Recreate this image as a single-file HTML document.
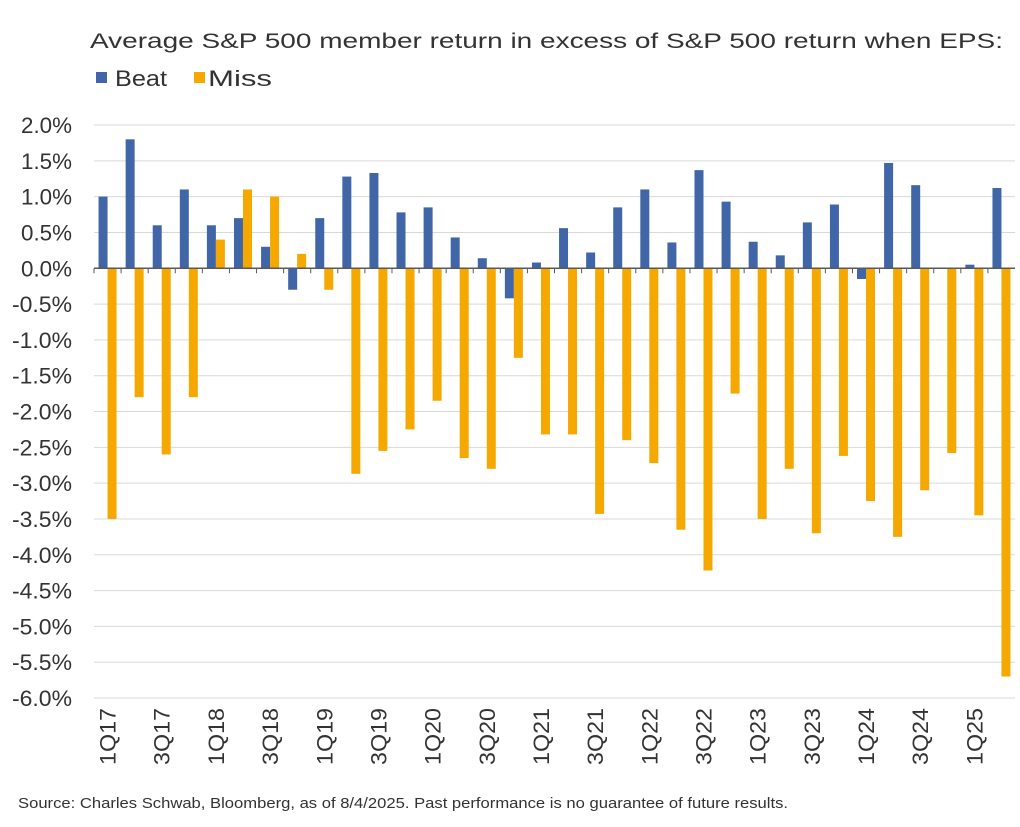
<!DOCTYPE html>
<html><head><meta charset="utf-8"><style>
body{margin:0;background:#fff;font-family:"Liberation Sans",sans-serif;}
svg text{font-family:"Liberation Sans",sans-serif;fill:#333;}
</style></head><body>
<svg id="chart" width="1020" height="822" xmlns="http://www.w3.org/2000/svg">
<text x="90" y="48" font-size="21" textLength="913" lengthAdjust="spacingAndGlyphs">Average S&amp;P 500 member return in excess of S&amp;P 500 return when EPS:</text>
<g>
<rect x="96" y="72" width="11" height="11" fill="#4066a8"/>
<text x="115" y="86" font-size="22" textLength="52" lengthAdjust="spacingAndGlyphs">Beat</text>
<rect x="194" y="72" width="11" height="11" fill="#f5a800"/>
<text x="208" y="86" font-size="22" textLength="64" lengthAdjust="spacingAndGlyphs">Miss</text>
</g>
<g id="grid"></g><g id="bars"></g><g id="axes"></g>
<text x="18" y="808" font-size="15" textLength="770" lengthAdjust="spacingAndGlyphs">Source: Charles Schwab, Bloomberg, as of 8/4/2025.  Past performance is no guarantee of future results.</text>
</svg>
<script>
const categories=["1Q17","2Q17","3Q17","4Q17","1Q18","2Q18","3Q18","4Q18","1Q19","2Q19","3Q19","4Q19","1Q20","2Q20","3Q20","4Q20","1Q21","2Q21","3Q21","4Q21","1Q22","2Q22","3Q22","4Q22","1Q23","2Q23","3Q23","4Q23","1Q24","2Q24","3Q24","4Q24","1Q25","2Q25"];
const beat=[1.0,1.8,0.6,1.1,0.6,0.7,0.3,-0.3,0.7,1.28,1.33,0.78,0.85,0.43,0.14,-0.42,0.08,0.56,0.22,0.85,1.1,0.36,1.37,0.93,0.37,0.18,0.64,0.89,-0.15,1.47,1.16,0.0,0.05,1.12];
const miss=[-3.5,-1.8,-2.6,-1.8,0.4,1.1,1.0,0.2,-0.3,-2.87,-2.55,-2.25,-1.85,-2.65,-2.8,-1.25,-2.32,-2.32,-3.43,-2.4,-2.72,-3.65,-4.22,-1.75,-3.5,-2.8,-3.7,-2.62,-3.25,-3.75,-3.1,-2.58,-3.45,-5.7];
const yTicks=[2,1.5,1,0.5,0,-0.5,-1,-1.5,-2,-2.5,-3,-3.5,-4,-4.5,-5,-5.5,-6];
const NS="http://www.w3.org/2000/svg";
const x0=94,x1=1015,y0=125,y1=698,yMax=2,yMin=-6;
const y=v=>y0+(yMax-v)/(yMax-yMin)*(y1-y0);
const band=(x1-x0)/categories.length;
const xc=i=>x0+band*(i+0.5);
function mk(t,a,p){const e=document.createElementNS(NS,t);for(const k in a)e.setAttribute(k,a[k]);p.appendChild(e);return e;}
const grid=document.getElementById('grid'),bars=document.getElementById('bars'),axes=document.getElementById('axes');
yTicks.forEach(v=>{
 const l=mk('line',{x1:x0,x2:x1,y1:y(v),y2:y(v),stroke:'#d9d9d9','stroke-width':1},grid);
 
 
 const s=(v<0?'-':'')+Math.abs(v).toFixed(1)+'%';
 const t=mk('text',{x:72,y:y(v)+8,'font-size':22,'text-anchor':'end',textLength:v<0?60:51,lengthAdjust:'spacingAndGlyphs'},grid);
 t.textContent=s;
 
 
});
const bw=9;
categories.forEach((c,i)=>{
 const b=mk('rect',{x:xc(i)-bw,y:Math.min(y(0),y(beat[i])),width:bw,height:Math.abs(y(beat[i])-y(0)),fill:'#4066a8'},bars);
 
 
 const m=mk('rect',{x:xc(i),y:Math.min(y(0),y(miss[i])),width:bw,height:Math.abs(y(miss[i])-y(0)),fill:'#f5a800'},bars);
 
 
 const tk=mk('line',{x1:x0+band*i,x2:x0+band*i,y1:y(0),y2:y(0)+5,stroke:'#595959'},axes);
 
 
 if(i%2===0){
  const t=mk('text',{x:0,y:0,'font-size':22,'text-anchor':'end',textLength:57,lengthAdjust:'spacingAndGlyphs',transform:`translate(${xc(i)+8},708) rotate(-90)`},axes);
  t.textContent=c;
  
  
 }
});
const ax=mk('line',{x1:x0,x2:x1,y1:y(0),y2:y(0),stroke:'#595959','stroke-width':1.5},axes);


</script>
</body></html>
